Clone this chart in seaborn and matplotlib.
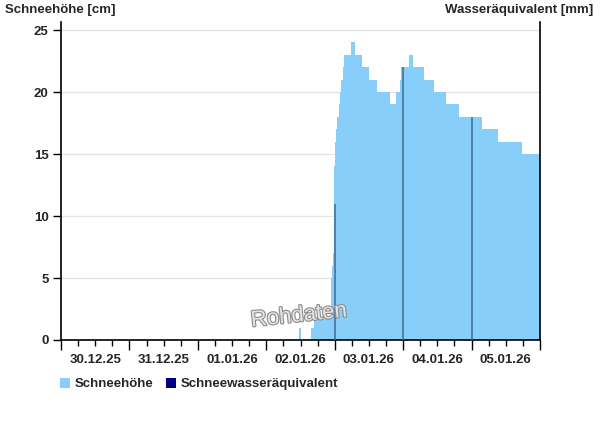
import numpy as np
import pandas as pd
import matplotlib
matplotlib.use("Agg")
import matplotlib.pyplot as plt
import matplotlib.patheffects as pe
from matplotlib.patches import Patch
import seaborn as sns

# ---- data (hours since 30.12.25 00:00) ----
day_labels = ["30.12.25", "31.12.25", "01.01.26", "02.01.26", "03.01.26", "04.01.26", "05.01.26"]

# snow depth: step segments, edges (h) and value per segment (cm)
snow_edges = [83.4, 84.2, 87.7, 88.7, 94.7, 95.2, 95.5, 95.9, 96.2, 96.6,
              96.95, 97.5, 97.9, 98.25, 98.8, 99.4, 101.7, 103.05, 105.5, 108.0,
              110.7, 115.4, 117.5, 118.9, 119.3, 122.1, 123.5, 127.3, 130.8, 135.0,
              139.6, 147.7, 153.3, 161.7, 168.0]
snow_values = [1, 0, 1, 1.7, 5, 6, 7, 14, 16, 17,
               18, 19, 20, 21, 22, 23, 24, 23, 22, 21,
               20, 19, 20, 21, 22, 23, 22, 21, 20, 19,
               18, 17, 16, 15]

# snow water equivalent (daily values at 00:00)
we_hours = [96, 120, 144]
we_values = [11, 22, 18]

SNOW_COLOR = "#87cefa"
WE_COLOR = "#000080"

sns.set_theme(style="white")
plt.rcParams["font.family"] = ["Liberation Sans", "DejaVu Sans"]
plt.rcParams["font.weight"] = "bold"
plt.rcParams["font.size"] = 9.5

W, H = 600, 426
fig = plt.figure(figsize=(W / 100, H / 100), dpi=100)
ax = fig.add_axes([61 / W, 1 - 340 / H, (540 - 61) / W, (340 - 22) / H])

df = pd.DataFrame({
    "start": snow_edges[:-1],
    "end": snow_edges[1:],
    "value": snow_values,
})
df["mid"] = (df["start"] + df["end"]) / 2

sns.histplot(data=df, x="mid", weights="value", bins=snow_edges, stat="count",
             color=SNOW_COLOR, alpha=1, linewidth=0, edgecolor="none", ax=ax, zorder=2)

ax.vlines(we_hours, 0, we_values, color="#3f6c8e", linewidth=1.1, zorder=3)

ax.set_xlim(0, 168)
ax.set_ylim(0, 25.65)
ax.set_xlabel("")
ax.set_ylabel("")

ax.set_yticks([0, 5, 10, 15, 20, 25])
ax.set_yticklabels(["0", "5", "10", "15", "20", "25"])
ax.yaxis.grid(True, color="#e6e6e6", linewidth=1)
ax.xaxis.grid(False)
ax.set_axisbelow(True)

major = np.arange(0, 169, 24)
minor = [h for h in range(6, 168, 6) if h % 24 != 0]
ax.set_xticks(major)
ax.set_xticklabels([""] * len(major))
ax.set_xticks(minor, minor=True)
minor_labels = []
for h in minor:
    if h % 24 == 12:
        minor_labels.append(day_labels[h // 24])
    else:
        minor_labels.append("")
ax.set_xticklabels(minor_labels, minor=True)

ax.tick_params(axis="x", which="major", length=7, width=1, color="black", direction="out", bottom=True)
ax.tick_params(axis="x", which="minor", length=4, width=1, color="black", direction="out",
               bottom=True, pad=6, labelsize=9.5)
ax.tick_params(axis="y", length=6, width=1, color="black", direction="out", left=True,
               pad=3, labelsize=9.5)

for s in ["left", "right", "bottom"]:
    ax.spines[s].set_visible(True)
    ax.spines[s].set_color("black")
    ax.spines[s].set_linewidth(1.2)
ax.spines["top"].set_visible(False)

fig.text(5 / W, 1 - 10 / H, "Schneehöhe [cm]", ha="left", va="center", fontsize=9.5, fontweight="bold")
fig.text(593 / W, 1 - 10 / H, "Wasseräquivalent [mm]", ha="right", va="center", fontsize=9.5, fontweight="bold")

t = fig.text(299 / W, 1 - 316 / H, "Rohdaten", ha="center", va="center", fontsize=16,
             fontweight="normal", rotation=6, color="#e4e4e4", zorder=10)
t.set_path_effects([pe.withStroke(linewidth=1.6, foreground="#8c8c8c")])

handles = [Patch(facecolor=SNOW_COLOR, edgecolor="none"), Patch(facecolor=WE_COLOR, edgecolor="none")]
fig.legend(handles, ["Schneehöhe", "Schneewasseräquivalent"], loc="center left",
           bbox_to_anchor=(60 / W, 1 - 384 / H), ncol=2, frameon=False,
           handlelength=0.76, handleheight=0.76, handletextpad=0.35, columnspacing=0.95,
           borderpad=0, borderaxespad=0, fontsize=9.5)

fig.savefig("out.png", dpi=100, facecolor="white")
